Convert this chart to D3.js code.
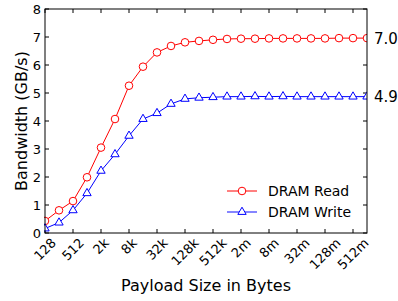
<!DOCTYPE html>
<html>
<head>
<meta charset="utf-8">
<script src="https://cdn.jsdelivr.net/npm/d3@7"></script>
<style>
  body { margin: 0; background: #fff; }
  svg text { font-family: "DejaVu Sans", sans-serif; fill: #000; }
</style>
</head>
<body>
<script>
// payload sizes, one point per power of two
var sizes = ["128","256","512","1k","2k","4k","8k","16k","32k","64k","128k","256k",
             "512k","1m","2m","4m","8m","16m","32m","64m","128m","256m","512m","1g"]
var tickLabels = ["128","512","2k","8k","32k","128k","512k","2m","8m","32m","128m","512m"]

var dramRead = [0.43, 0.81, 1.14, 1.99, 3.05, 4.07, 5.26, 5.94, 6.45, 6.68, 6.81, 6.86,
                6.90, 6.93, 6.94, 6.94, 6.95, 6.95, 6.95, 6.95, 6.95, 6.96, 6.96, 6.96]
var dramWrite = [0.16, 0.37, 0.81, 1.42, 2.22, 2.81, 3.47, 4.07, 4.28, 4.61, 4.79, 4.83,
                 4.85, 4.87, 4.87, 4.88, 4.87, 4.88, 4.87, 4.87, 4.87, 4.87, 4.87, 4.87]
var yTicks = [0, 1, 2, 3, 4, 5, 6, 7, 8]
var endLabels = ["7.0", "4.9"]

var margin = {top: 9, right: 31, bottom: 68, left: 45}
var W = 398, H = 301
var width = W - margin.left - margin.right
var height = H - margin.top - margin.bottom

var svg = d3.select("body").append("svg")
    .attr("width", W)
    .attr("height", H)

var g = svg.append("g")
    .attr("transform", "translate(" + margin.left + "," + margin.top + ")")

var x = d3.scalePoint()
    .domain(sizes)
    .range([0, width])

var y = d3.scaleLinear()
    .domain([0, 8])
    .range([height, 0])

// ticks inside, on all four sides
var tickLen = 4
g.append("g").selectAll("line").data(tickLabels).enter().append("line")
    .attr("x1", d => x(d)).attr("x2", d => x(d))
    .attr("y1", height).attr("y2", height - tickLen)
    .attr("stroke", "#000")
g.append("g").selectAll("line").data(tickLabels).enter().append("line")
    .attr("x1", d => x(d)).attr("x2", d => x(d))
    .attr("y1", 0).attr("y2", tickLen)
    .attr("stroke", "#000")
g.append("g").selectAll("line").data(yTicks).enter().append("line")
    .attr("x1", 0).attr("x2", tickLen)
    .attr("y1", d => y(d)).attr("y2", d => y(d))
    .attr("stroke", "#000")
g.append("g").selectAll("line").data(yTicks).enter().append("line")
    .attr("x1", width).attr("x2", width - tickLen)
    .attr("y1", d => y(d)).attr("y2", d => y(d))
    .attr("stroke", "#000")

// y tick labels
g.append("g").selectAll("text").data(yTicks).enter().append("text")
    .attr("x", -4)
    .attr("y", d => y(d))
    .attr("dy", "0.36em")
    .attr("text-anchor", "end")
    .style("font-size", "13px")
    .text(d => d)

// x tick labels, rotated 45 deg, bbox centred under the tick
var xl = g.append("g").selectAll("text").data(tickLabels).enter().append("text")
    .attr("text-anchor", "middle")
    .attr("dominant-baseline", "central")
    .style("font-size", "13px")
    .text(d => d)
xl.each(function(d) {
    var L = this.getComputedTextLength()
    var half = (L + 10) / (2 * Math.SQRT2)
    d3.select(this).attr("transform",
        "translate(" + x(d) + "," + (height + 4 + half) + ") rotate(-45)")
})

// lines
var lineRead = d3.line()
    .x((d, i) => x(sizes[i]))
    .y(d => y(d))

g.append("path").datum(dramRead)
    .attr("fill", "none").attr("stroke", "red").attr("stroke-width", 1)
    .attr("d", lineRead)
g.append("path").datum(dramWrite)
    .attr("fill", "none").attr("stroke", "blue").attr("stroke-width", 1)
    .attr("d", lineRead)

var tri = d3.symbol().type(d3.symbolTriangle).size(30)

var clip = svg.append("clipPath").attr("id", "plotclip")
    .append("rect").attr("x", -1).attr("y", -6).attr("width", width + 1).attr("height", height + 12)

var marks = g.append("g").attr("clip-path", "url(#plotclip)")
marks.selectAll("circle").data(dramRead).enter().append("circle")
    .attr("cx", (d, i) => x(sizes[i]))
    .attr("cy", d => y(d))
    .attr("r", 3.8)
    .attr("fill", "#fff")
    .attr("stroke", "red")
marks.selectAll(".tri").data(dramWrite).enter().append("path")
    .attr("class", "tri")
    .attr("d", tri)
    .attr("transform", (d, i) => "translate(" + x(sizes[i]) + "," + y(d) + ")")
    .attr("fill", "#fff")
    .attr("stroke", "blue")

// frame
g.append("rect")
    .attr("x", 0).attr("y", 0)
    .attr("width", width).attr("height", height)
    .attr("fill", "none").attr("stroke", "#000")

// end-value labels on the right
g.append("g").selectAll("text").data([dramRead, dramWrite]).enter().append("text")
    .attr("x", width + 7)
    .attr("y", d => y(d[d.length - 1]))
    .attr("dy", "0.36em")
    .style("font-size", "15px")
    .text((d, i) => endLabels[i])

// legend
var legend = g.append("g").attr("transform", "translate(182,182)")
legend.append("line").attr("x1", 0).attr("x2", 30).attr("y1", 0).attr("y2", 0)
    .attr("stroke", "red")
legend.append("circle").attr("cx", 15).attr("cy", 0).attr("r", 3.8)
    .attr("fill", "#fff").attr("stroke", "red")
legend.append("text").attr("x", 41).attr("y", 0).attr("dy", "0.36em")
    .style("font-size", "14px").text("DRAM Read")
legend.append("line").attr("x1", 0).attr("x2", 30).attr("y1", 21).attr("y2", 21)
    .attr("stroke", "blue").attr("stroke-width", 1.6).attr("stroke-opacity", 0.6)
legend.append("path").attr("d", tri)
    .attr("transform", "translate(15,21)")
    .attr("fill", "#fff").attr("stroke", "blue")
legend.append("text").attr("x", 41).attr("y", 21).attr("dy", "0.36em")
    .style("font-size", "14px").text("DRAM Write")

// axis titles
svg.append("text")
    .attr("transform", "translate(27," + (margin.top + height / 2) + ") rotate(-90)")
    .attr("text-anchor", "middle")
    .style("font-size", "16px")
    .text("Bandwidth (GB/s)")
svg.append("text")
    .attr("x", margin.left + width / 2)
    .attr("y", 291)
    .attr("text-anchor", "middle")
    .style("font-size", "16px")
    .text("Payload Size in Bytes")
</script>
</body>
</html>
